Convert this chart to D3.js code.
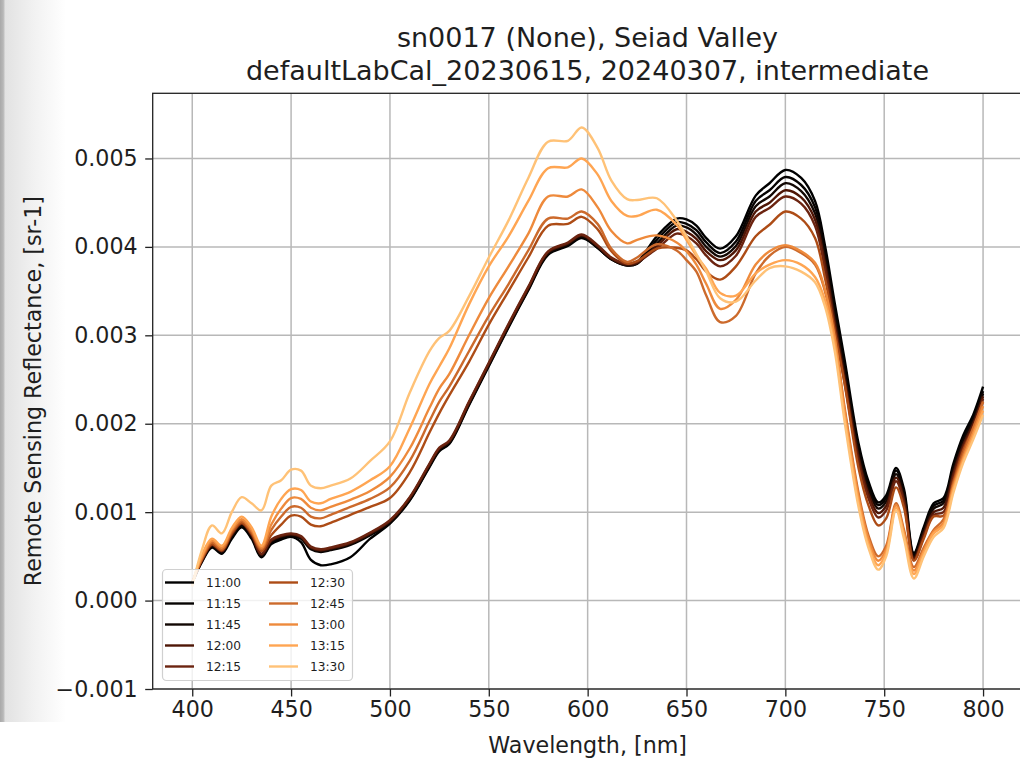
<!DOCTYPE html>
<html><head><meta charset="utf-8">
<script src="https://cdn.jsdelivr.net/npm/d3@7"></script>
<style>
html,body{margin:0;padding:0;background:#fff;}
svg{display:block;font-family:"DejaVu Sans",sans-serif;}
</style></head>
<body>
<svg id="chart" width="1020" height="760"></svg>
<script>
// ---- data ----
const wavelengths = [400,405,410,415,420,425,430,435,440,445,450,455,460,465,470,480,490,500,510,520,525,530,540,550,560,570,580,590,597,605,612,620,625,635,645,650,655,660,667,675,685,692,700,708,715,720,725,730,737,742,747,751,756,760,765,770,775,780,785,790,795,800];

const times = ["11:00","11:15","11:45","12:00","12:15","12:30","12:45","13:00","13:15","13:30"];
const colors = ["#000000","#060302","#120804","#4e1606","#6c2410","#ad4c16","#cc6a2c","#ee8a3c","#ffa552","#ffc277"];

const rrs_1100 = [0.00020,0.00044,0.00060,0.00053,0.00070,0.00083,0.00070,0.00049,0.00064,0.00069,0.00072,0.00066,0.00046,0.00040,0.00041,0.00049,0.00070,0.00087,0.00113,0.00151,0.00169,0.00177,0.00221,0.00265,0.00309,0.00351,0.00391,0.00401,0.00410,0.00399,0.00386,0.00380,0.00383,0.00412,0.00432,0.00431,0.00424,0.00410,0.00398,0.00412,0.00458,0.00472,0.00487,0.00478,0.00452,0.00402,0.00336,0.00272,0.00178,0.00135,0.00111,0.00119,0.00150,0.00126,0.00054,0.00083,0.00110,0.00116,0.00155,0.00187,0.00210,0.00242];
const rrs_1115 = [0.00020,0.00045,0.00062,0.00055,0.00072,0.00085,0.00072,0.00050,0.00066,0.00071,0.00073,0.00070,0.00058,0.00055,0.00057,0.00063,0.00074,0.00088,0.00114,0.00152,0.00170,0.00178,0.00222,0.00266,0.00310,0.00352,0.00392,0.00402,0.00411,0.00399,0.00386,0.00379,0.00381,0.00408,0.00428,0.00426,0.00419,0.00405,0.00393,0.00406,0.00452,0.00464,0.00479,0.00470,0.00445,0.00395,0.00328,0.00264,0.00172,0.00130,0.00108,0.00116,0.00147,0.00122,0.00052,0.00080,0.00107,0.00113,0.00151,0.00183,0.00206,0.00237];
const rrs_1145 = [0.00020,0.00045,0.00062,0.00055,0.00073,0.00086,0.00073,0.00051,0.00067,0.00072,0.00074,0.00071,0.00059,0.00056,0.00058,0.00064,0.00075,0.00089,0.00115,0.00153,0.00171,0.00179,0.00223,0.00267,0.00311,0.00353,0.00393,0.00403,0.00412,0.00400,0.00386,0.00379,0.00381,0.00404,0.00424,0.00422,0.00414,0.00400,0.00389,0.00401,0.00446,0.00457,0.00472,0.00463,0.00438,0.00389,0.00322,0.00258,0.00167,0.00126,0.00104,0.00112,0.00143,0.00118,0.00050,0.00078,0.00104,0.00110,0.00148,0.00180,0.00203,0.00234];
const rrs_1200 = [0.00020,0.00046,0.00063,0.00056,0.00074,0.00087,0.00074,0.00052,0.00068,0.00073,0.00075,0.00072,0.00060,0.00057,0.00059,0.00065,0.00076,0.00090,0.00116,0.00154,0.00172,0.00180,0.00224,0.00268,0.00312,0.00354,0.00394,0.00404,0.00413,0.00401,0.00387,0.00380,0.00382,0.00401,0.00420,0.00417,0.00409,0.00395,0.00385,0.00396,0.00440,0.00450,0.00464,0.00456,0.00431,0.00382,0.00315,0.00252,0.00162,0.00121,0.00099,0.00107,0.00139,0.00114,0.00048,0.00075,0.00100,0.00105,0.00144,0.00176,0.00200,0.00231];
const rrs_1215 = [0.00020,0.00046,0.00063,0.00056,0.00075,0.00087,0.00075,0.00053,0.00069,0.00074,0.00076,0.00073,0.00061,0.00058,0.00060,0.00066,0.00077,0.00091,0.00117,0.00155,0.00173,0.00181,0.00225,0.00269,0.00313,0.00355,0.00395,0.00405,0.00414,0.00402,0.00388,0.00381,0.00383,0.00398,0.00415,0.00412,0.00404,0.00390,0.00378,0.00390,0.00434,0.00444,0.00457,0.00449,0.00424,0.00375,0.00309,0.00246,0.00157,0.00116,0.00094,0.00102,0.00135,0.00110,0.00046,0.00072,0.00097,0.00100,0.00140,0.00173,0.00197,0.00228];
const rrs_1230 = [0.00020,0.00047,0.00064,0.00057,0.00076,0.00088,0.00076,0.00056,0.00074,0.00086,0.00096,0.00095,0.00086,0.00084,0.00088,0.00097,0.00106,0.00116,0.00145,0.00190,0.00212,0.00232,0.00270,0.00312,0.00350,0.00388,0.00424,0.00426,0.00434,0.00420,0.00395,0.00381,0.00384,0.00398,0.00399,0.00396,0.00386,0.00372,0.00363,0.00378,0.00412,0.00425,0.00440,0.00432,0.00410,0.00365,0.00305,0.00245,0.00150,0.00108,0.00085,0.00093,0.00128,0.00105,0.00045,0.00070,0.00095,0.00096,0.00135,0.00170,0.00195,0.00225];
const rrs_1245 = [0.00020,0.00048,0.00066,0.00058,0.00078,0.00090,0.00078,0.00058,0.00080,0.00095,0.00106,0.00105,0.00095,0.00093,0.00097,0.00106,0.00115,0.00128,0.00158,0.00203,0.00225,0.00242,0.00282,0.00322,0.00358,0.00396,0.00432,0.00432,0.00440,0.00426,0.00398,0.00383,0.00388,0.00403,0.00396,0.00385,0.00372,0.00345,0.00315,0.00322,0.00370,0.00390,0.00400,0.00393,0.00380,0.00350,0.00295,0.00218,0.00122,0.00074,0.00050,0.00062,0.00110,0.00080,0.00038,0.00060,0.00080,0.00092,0.00132,0.00166,0.00195,0.00225];
const rrs_1300 = [0.00019,0.00050,0.00068,0.00060,0.00080,0.00092,0.00080,0.00060,0.00086,0.00104,0.00116,0.00115,0.00105,0.00102,0.00106,0.00114,0.00124,0.00140,0.00172,0.00218,0.00240,0.00256,0.00300,0.00342,0.00378,0.00415,0.00457,0.00457,0.00465,0.00445,0.00418,0.00404,0.00408,0.00413,0.00405,0.00395,0.00380,0.00358,0.00330,0.00340,0.00380,0.00395,0.00402,0.00395,0.00382,0.00352,0.00297,0.00215,0.00118,0.00070,0.00045,0.00058,0.00108,0.00077,0.00034,0.00057,0.00078,0.00088,0.00129,0.00162,0.00190,0.00220];
const rrs_1315 = [0.00018,0.00052,0.00070,0.00062,0.00082,0.00095,0.00083,0.00062,0.00095,0.00115,0.00126,0.00125,0.00112,0.00110,0.00115,0.00123,0.00136,0.00152,0.00195,0.00245,0.00265,0.00285,0.00335,0.00378,0.00412,0.00452,0.00489,0.00490,0.00500,0.00482,0.00452,0.00435,0.00435,0.00442,0.00425,0.00408,0.00390,0.00375,0.00348,0.00345,0.00370,0.00380,0.00385,0.00380,0.00366,0.00340,0.00288,0.00208,0.00112,0.00064,0.00040,0.00054,0.00105,0.00074,0.00030,0.00054,0.00076,0.00085,0.00126,0.00159,0.00186,0.00215];
const rrs_1330 = [0.00016,0.00058,0.00085,0.00076,0.00100,0.00117,0.00110,0.00102,0.00130,0.00136,0.00148,0.00147,0.00130,0.00127,0.00130,0.00138,0.00158,0.00180,0.00235,0.00282,0.00297,0.00305,0.00344,0.00388,0.00430,0.00478,0.00519,0.00520,0.00535,0.00512,0.00475,0.00454,0.00453,0.00455,0.00430,0.00412,0.00392,0.00372,0.00342,0.00338,0.00362,0.00376,0.00378,0.00372,0.00360,0.00333,0.00282,0.00202,0.00106,0.00060,0.00035,0.00050,0.00102,0.00070,0.00025,0.00050,0.00072,0.00082,0.00122,0.00156,0.00182,0.00210];

const seriesValues = [rrs_1100,rrs_1115,rrs_1145,rrs_1200,rrs_1215,rrs_1230,rrs_1245,rrs_1300,rrs_1315,rrs_1330];

const xTicks = [400,450,500,550,600,650,700,750,800];
const yTicks = [-0.001,0.000,0.001,0.002,0.003,0.004,0.005];
const titleLines = ["sn0017 (None), Seiad Valley","defaultLabCal_20230615, 20240307, intermediate"];
const xLabel = "Wavelength, [nm]";
const yLabel = "Remote Sensing Reflectance, [sr-1]";

// ---- layout ----
const svg = d3.select("#chart");
const M = {left:152.7, top:93.3, right:1022.6, bottom:689};
const FS = 22.2;

// left grey screen edge
const defs = svg.append("defs");
const g1 = defs.append("linearGradient").attr("id","edge").attr("x1","0").attr("x2","1").attr("y1","0").attr("y2","0");
g1.append("stop").attr("offset","0").attr("stop-color","#a9a9a9");
g1.append("stop").attr("offset","0.05").attr("stop-color","#b8b8b8");
g1.append("stop").attr("offset","0.08").attr("stop-color","#e2e2e2");
g1.append("stop").attr("offset","0.5").attr("stop-color","#f1f1f1");
g1.append("stop").attr("offset","1").attr("stop-color","#ffffff");
svg.append("rect").attr("x",0).attr("y",0).attr("width",66).attr("height",722).attr("fill","url(#edge)");

const x = d3.scaleLinear().domain([380,820]).range([M.left,M.right]);
const y = d3.scaleLinear().domain([-0.001,0.005737]).range([M.bottom,M.top]);

const plot = svg.append("g");
// grid
plot.append("g").selectAll("line").data(xTicks).join("line")
  .attr("x1",d=>x(d)).attr("x2",d=>x(d)).attr("y1",M.top).attr("y2",M.bottom)
  .attr("stroke","#b8b8b8").attr("stroke-width",1.5);
plot.append("g").selectAll("line").data(yTicks).join("line")
  .attr("x1",M.left).attr("x2",M.right).attr("y1",d=>y(d)).attr("y2",d=>y(d))
  .attr("stroke","#b8b8b8").attr("stroke-width",1.5);

// lines
const line = d3.line().x((d,i)=>x(wavelengths[i])).y(d=>y(d)).curve(d3.curveCatmullRom.alpha(0.5));
defs.append("clipPath").attr("id","clip").append("rect")
  .attr("x",M.left).attr("y",M.top).attr("width",M.right-M.left).attr("height",M.bottom-M.top);
plot.append("g").attr("clip-path","url(#clip)").selectAll("path").data(seriesValues).join("path")
  .attr("d",d=>line(d)).attr("fill","none")
  .attr("stroke",(d,i)=>colors[i]).attr("stroke-width",2.4).attr("stroke-linejoin","round");

// axes
const xAxis = d3.axisBottom(x).tickValues(xTicks).tickSize(7.5).tickPadding(4.5).tickFormat(d3.format("d"));
const yAxis = d3.axisLeft(y).tickValues(yTicks).tickSize(7.5).tickPadding(7.5).tickFormat(d3.format(".3f"));
const gx = svg.append("g").attr("transform",`translate(0,${M.bottom})`).call(xAxis);
const gy = svg.append("g").attr("transform",`translate(${M.left},0)`).call(yAxis);
[gx,gy].forEach(g=>{
  g.select(".domain").remove();
  g.selectAll(".tick line").attr("stroke","#222").attr("stroke-width",1.3);
  g.selectAll(".tick text").attr("fill","#1e1e1e").attr("font-size",FS).attr("font-family","DejaVu Sans");
});
// frame
svg.append("rect").attr("x",M.left).attr("y",M.top).attr("width",M.right-M.left).attr("height",M.bottom-M.top)
  .attr("fill","none").attr("stroke","#222").attr("stroke-width",1.3);

// labels
svg.append("text").attr("x",(M.left+M.right)/2).attr("y",753).attr("text-anchor","middle")
  .attr("font-size",FS).attr("fill","#1e1e1e").text(xLabel);
svg.append("text").attr("transform",`translate(40.5,${(M.top+M.bottom)/2}) rotate(-90)`).attr("text-anchor","middle")
  .attr("font-size",FS).attr("fill","#1e1e1e").text(yLabel);
svg.selectAll(".title").data(titleLines).join("text").attr("class","title")
  .attr("x",587.5).attr("y",(d,i)=>47+i*33).attr("text-anchor","middle")
  .attr("font-size",27).attr("fill","#1e1e1e").text(d=>d);

// legend
const leg = svg.append("g");
leg.append("rect").attr("x",162.5).attr("y",569.5).attr("width",190).attr("height",111).attr("rx",4)
  .attr("fill","#fff").attr("fill-opacity",0.8).attr("stroke","#d0d0d0").attr("stroke-width",1.2);
const rowY = i => 582.5 + (i%5)*21;
const colX = i => i<5 ? 165 : 269;
const items = leg.selectAll("g.item").data(times).join("g").attr("class","item");
items.append("line").attr("x1",(d,i)=>colX(i)).attr("x2",(d,i)=>colX(i)+29)
  .attr("y1",(d,i)=>rowY(i)).attr("y2",(d,i)=>rowY(i)).attr("stroke",(d,i)=>colors[i]).attr("stroke-width",2.4);
items.append("text").attr("x",(d,i)=>colX(i)+41).attr("y",(d,i)=>rowY(i)+4.5)
  .attr("font-size",12.2).attr("fill","#1e1e1e").text(d=>d);
</script>
</body></html>
